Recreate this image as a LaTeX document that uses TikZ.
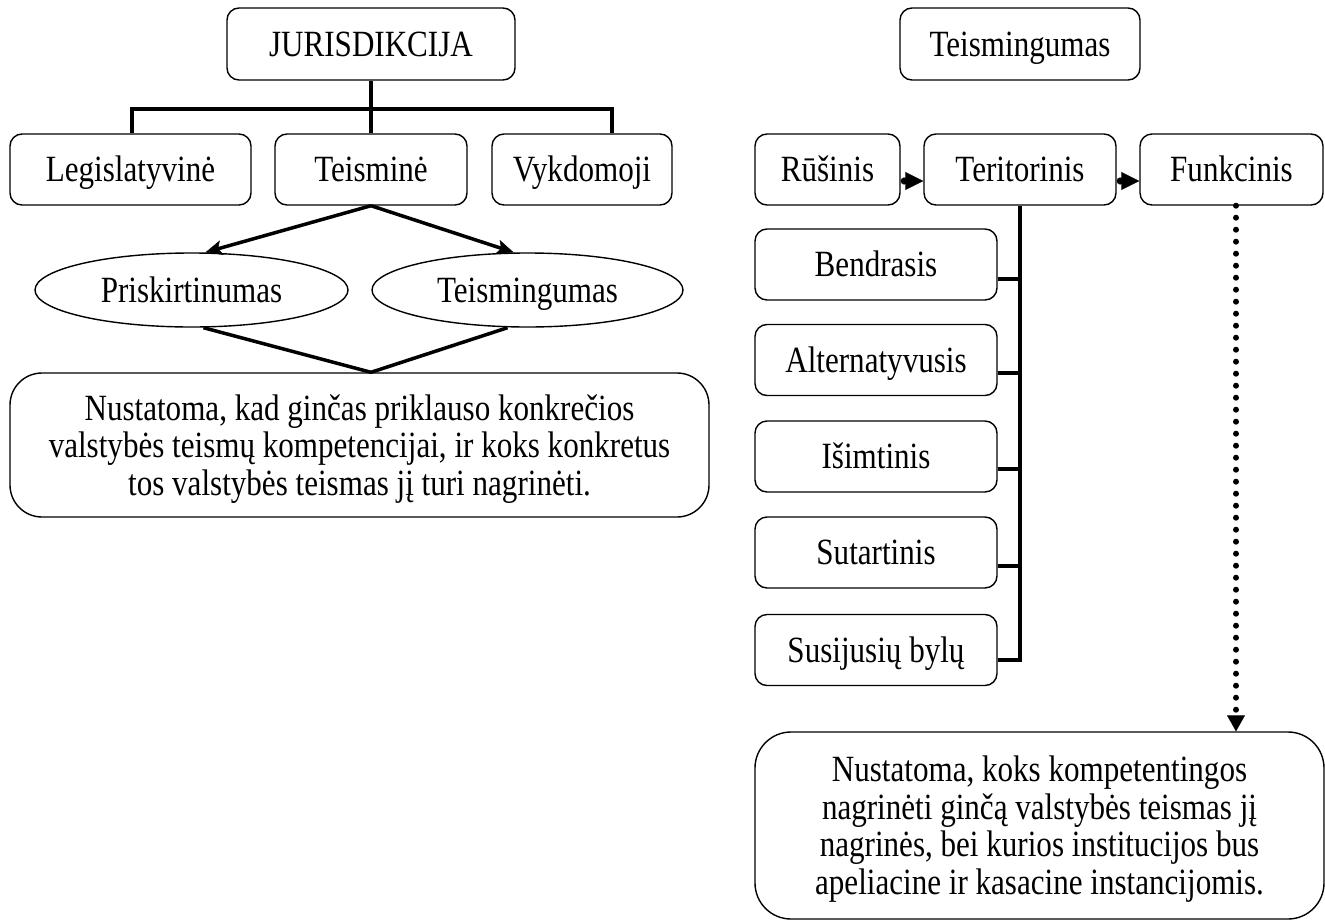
\documentclass[tikz,border=0pt]{standalone}
\usepackage{fontspec}
\setmainfont{Liberation Serif}[FakeStretch=0.84]
\usetikzlibrary{arrows.meta,shapes.geometric}
\begin{document}
\begin{tikzpicture}[x=1pt,y=-1pt,
  every node/.style={font=\fontsize{37}{37.5}\selectfont, inner sep=0pt, align=center},
  one/.style={text height=26pt, text depth=2pt},
  rbox/.style={draw, one, line width=1.4pt, rounded corners=12pt},
  bigbox/.style={draw, line width=1.4pt, rounded corners=32pt},
  oval/.style={draw, one, ellipse, line width=1.4pt},
  bus/.style={line width=4pt},
  arr/.style={line width=3.5pt, -{Stealth[length=17pt,width=15pt,inset=4pt,line width=0.5pt]}},
  seq/.style={line width=1.4pt, {Circle[length=7pt,width=7pt,line width=0.1pt]}-{Triangle[length=18pt,width=18pt,line width=0.1pt]}},
  dots/.style={line width=6pt, line cap=round, dash pattern=on 0pt off 12pt, -{Triangle[length=16pt,width=18pt,line width=0.1pt]}}
]
\useasboundingbox (0,0) rectangle (1325,921);
% left tree
\node[rbox, minimum width=288pt, minimum height=72pt] (jur) at (371,44) {JURISDIKCIJA};
\node[rbox, minimum width=241pt, minimum height=71pt] (leg) at (130.5,169.5) {Legislatyvinė};
\node[rbox, minimum width=192pt, minimum height=71pt] (tei) at (371,169.5) {Teisminė};
\node[rbox, minimum width=180pt, minimum height=71pt] (vyk) at (582,169.5) {Vykdomoji};
\node[oval, minimum width=313pt, minimum height=74pt] (pri) at (191.5,290) {Priskirtinumas};
\node[oval, minimum width=311pt, minimum height=74pt] (tsm) at (527.5,290) {Teismingumas};
\node[bigbox, minimum width=699pt, minimum height=144pt] (nus1) at (359.5,445)
  {\rule{0pt}{33pt}Nustatoma, kad ginčas priklauso konkrečios\\valstybės teismų kompetencijai, ir koks konkretus\\tos valstybės teismas jį turi nagrinėti.};
\coordinate (busL) at (132,109);
\coordinate (busR) at (612,109);
\draw[bus] (jur.south) -- (jur.south |- busL);
\draw[bus] (busL |- leg.north) -- (busL) -- (busR) -- (busR |- vyk.north);
\draw[bus] (tei.north) -- (tei.north |- busL);
\draw[arr] (tei.south) -- ([xshift=14pt]pri.north);
\draw[arr] (tei.south) -- ([xshift=-14pt]tsm.north);
\draw[line width=3.5pt, line join=miter] ([xshift=12pt]pri.south) -- (nus1.north -| tei.south) -- ([xshift=-20pt]tsm.south);
% right tree
\node[rbox, minimum width=240pt, minimum height=72pt] (tm2) at (1020,44) {Teismingumas};
\node[rbox, minimum width=145pt, minimum height=71pt] (rus) at (827.5,169.5) {Rūšinis};
\node[rbox, minimum width=192pt, minimum height=71pt] (ter) at (1020,169.5) {Teritorinis};
\node[rbox, minimum width=183pt, minimum height=71pt] (fun) at (1231.5,169.5) {Funkcinis};
\node[rbox, minimum width=242pt, minimum height=71pt] (ben) at (876,264.5) {Bendrasis};
\node[rbox, minimum width=242pt, minimum height=71pt] (alt) at (876,360) {Alternatyvusis};
\node[rbox, minimum width=242pt, minimum height=71pt] (isi) at (876,456.5) {Išimtinis};
\node[rbox, minimum width=242pt, minimum height=71pt] (sut) at (876,552.5) {Sutartinis};
\node[rbox, minimum width=242pt, minimum height=71pt] (sus) at (876,650) {Susijusių bylų};
\node[bigbox, rounded corners=36pt, minimum width=569pt, minimum height=187pt] (nus2) at (1039.5,825.5)
  {\rule{0pt}{33pt}Nustatoma, koks kompetentingos\\nagrinėti ginčą valstybės teismas jį\\nagrinės, bei kurios institucijos bus\\apeliacine ir kasacine instancijomis.};
\draw[seq] ([yshift=-11.5pt]rus.east) -- ([yshift=-11.5pt]ter.west);
\draw[seq] ([yshift=-11.5pt]ter.east) -- ([yshift=-11.5pt]fun.west);
\draw[bus, line join=miter] (ter.south) -- ([yshift=-10pt]sus.east -| ter.south) -- ([yshift=-10pt]sus.east);
\draw[bus] ([yshift=-14pt]ben.east) -- ([yshift=-14pt]ben.east -| ter.south);
\draw[bus] ([yshift=-13pt]alt.east) -- ([yshift=-13pt]alt.east -| ter.south);
\draw[bus] ([yshift=-12pt]isi.east) -- ([yshift=-12pt]isi.east -| ter.south);
\draw[bus] ([yshift=-13pt]sut.east) -- ([yshift=-13pt]sut.east -| ter.south);
\draw[dots] ([xshift=4.5pt]fun.south) -- ([xshift=4.5pt]fun.south |- nus2.north);
\end{tikzpicture}
\end{document}
